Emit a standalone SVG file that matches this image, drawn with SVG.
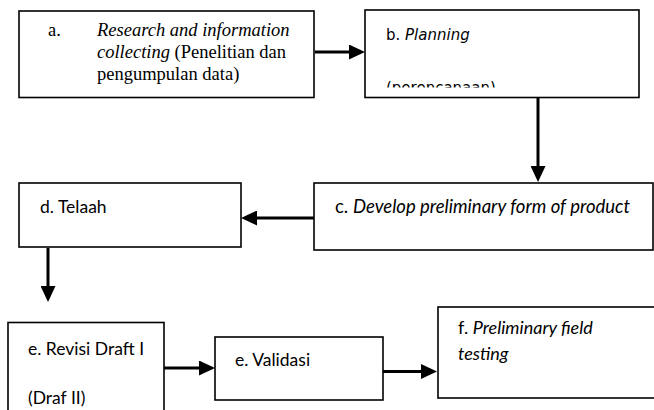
<svg xmlns="http://www.w3.org/2000/svg" width="654" height="410" viewBox="0 0 654 410">
<defs>
<style>
.box{fill:#fff;stroke:#000;stroke-width:1.6}
.conn{stroke:#000;stroke-width:3;fill:none}
.serif{font-family:"Liberation Serif","Times New Roman",serif;font-size:18.5px;fill:#000}
.sans{font-family:Lato,"Open Sans",sans-serif;font-size:17.5px;fill:#000}
.dv{font-family:"DejaVu Sans",sans-serif;font-size:15px;fill:#000}
.it{font-style:italic}
.big{font-size:18.5px}
.mid{font-size:18px}
</style>
<marker id="ah" markerWidth="16" markerHeight="15" refX="0" refY="7.5" orient="auto" markerUnits="userSpaceOnUse">
<path d="M0,0 L16,7.5 L0,15 z" fill="#000"/>
</marker>
<clipPath id="clipb"><rect x="366" y="11" width="272" height="76.5"/></clipPath>
</defs>
<g id="connectors">
<line class="conn" x1="315" y1="52" x2="349" y2="52" marker-end="url(#ah)"/>
<line class="conn" x1="538" y1="98" x2="538" y2="166" marker-end="url(#ah)"/>
<line class="conn" x1="314" y1="218" x2="257" y2="218" marker-end="url(#ah)"/>
<line class="conn" x1="48" y1="248" x2="48" y2="286" marker-end="url(#ah)"/>
<line class="conn" x1="164" y1="368" x2="199" y2="368" marker-end="url(#ah)"/>
<line class="conn" x1="383" y1="371.5" x2="421" y2="371.5" marker-end="url(#ah)"/>
</g>
<g id="node-a">
<rect class="box" x="19" y="11" width="295" height="86.5"/>
<text class="serif" x="48" y="36">a.</text>
<text class="serif it" x="97" y="36">Research and information</text>
<text class="serif" x="97" y="58"><tspan class="it">collecting</tspan> (Penelitian dan</text>
<text class="serif" x="97" y="80">pengumpulan data)</text>
</g>
<g id="node-b">
<rect class="box" x="365" y="10" width="274" height="87.5"/>
<text class="dv" x="386" y="40">b. <tspan class="it">Planning</tspan></text>
<text class="dv" x="386" y="93" clip-path="url(#clipb)">(perencanaan)</text>
</g>
<g id="node-c">
<rect class="box" x="314" y="183" width="339" height="67"/>
<text class="sans big" x="335" y="213">c.  <tspan class="it">Develop preliminary form of product</tspan></text>
</g>
<g id="node-d">
<rect class="box" x="19" y="183" width="222" height="64"/>
<text class="sans" x="40" y="213">d. Telaah</text>
</g>
<g id="node-e1">
<rect class="box" x="8" y="322.5" width="156" height="95"/>
<text class="sans" x="28" y="355">e. Revisi Draft I</text>
<text class="sans" x="28" y="404">(Draf II)</text>
</g>
<g id="node-e2">
<rect class="box" x="215" y="337" width="168" height="63"/>
<text class="sans" x="235" y="366">e. Validasi</text>
</g>
<g id="node-f">
<rect class="box" x="438" y="307" width="225" height="91"/>
<text class="sans mid" x="458" y="334">f. <tspan class="it">Preliminary field</tspan></text>
<text class="sans mid it" x="458" y="360">testing</text>
</g>
</svg>
